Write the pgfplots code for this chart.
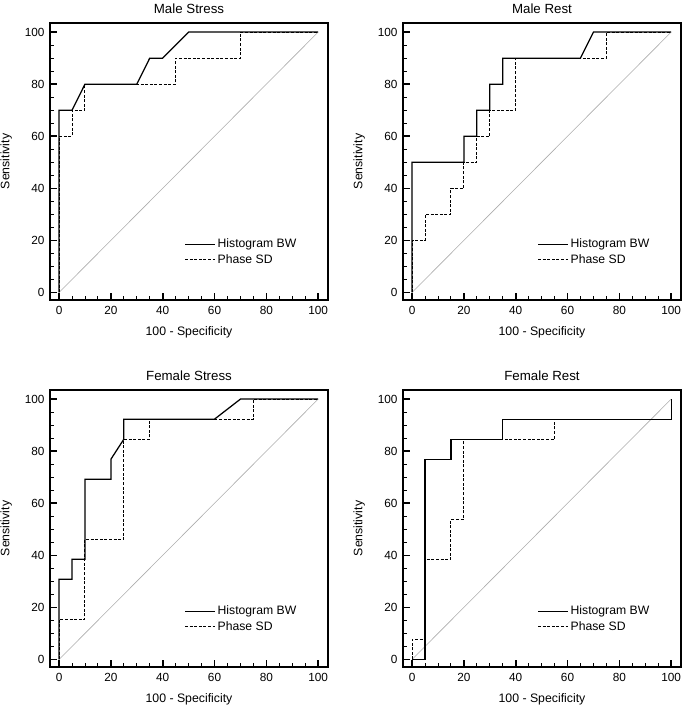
\documentclass[border=0pt]{standalone}
\usepackage{fontspec}
\setmainfont{Liberation Sans}
\usepackage{pgfplots}
\pgfplotsset{compat=1.18}
\pgfplotsset{
  rocax/.style={
    scale only axis, width=278pt, height=277pt,
    xmin=-3.5, xmax=103.8, ymin=-2.9, ymax=103.5,
    xtick={0,20,...,100}, ytick={0,20,...,100},
    minor x tick num=3, minor y tick num=3,
    xtick pos=bottom, ytick pos=left, tick align=inside,
    major tick length=7pt, minor tick length=3.5pt,
    every major tick/.style={line width=1.6pt, black},
    every minor tick/.style={line width=0.9pt, black},
    axis line style={line width=1.2pt, black},
    /pgf/number format/assume math mode=true,
    ticklabel style={font=\fontsize{11.8}{13}\selectfont},
    xticklabel style={yshift=-3pt},
    yticklabel style={xshift=-2pt},
    xlabel={100 - Specificity}, ylabel={Sensitivity},
    label style={font=\fontsize{12.3}{14}\selectfont},
    xlabel style={yshift=-5pt},
    ylabel style={yshift=6pt},
    title style={font=\fontsize{13.3}{15}\selectfont, yshift=0pt},
    legend style={draw=none, fill=none, font=\fontsize{12.2}{14}\selectfont,
      at={(rel axis cs:0.472,0.235)}, anchor=north west, row sep=1pt,
      cells={anchor=west}},
    legend image code/.code={\draw[##1] (0pt,0pt) -- (30pt,0pt);},
    hbw/.style={black, line width=1.25pt},
    psd/.style={black, line width=1pt, dash pattern=on 3pt off 1.6pt},
    diag/.style={gray!65, line width=0.6pt, forget plot},
    after end axis/.code={\draw[line width=2pt, black] (rel axis cs:0,1) -- (rel axis cs:0,0) -- (rel axis cs:1,0);},
  }
}
\begin{document}
\begin{tikzpicture}
\useasboundingbox (0,0) rectangle (685pt,709pt);
% Male Stress
\begin{axis}[rocax, at={(50pt,409pt)}, anchor=south west, title={Male Stress}]
\addplot[diag] coordinates {(0,0) (100,100)};
\addplot[hbw] coordinates {(0,0) (0,70) (5,70) (10,80) (30,80) (35,90) (40,90) (50,100) (100,100)};
\addlegendentry{Histogram BW}
\addplot[psd] coordinates {(0,0) (0,60) (5,60) (5,70) (10,70) (10,80) (45,80) (45,90) (70,90) (70,100) (100,100)};
\addlegendentry{Phase SD}
\end{axis}
% Male Rest
\begin{axis}[rocax, at={(403pt,409pt)}, anchor=south west, title={Male Rest}]
\addplot[diag] coordinates {(0,0) (100,100)};
\addplot[hbw] coordinates {(0,0) (0,50) (20,50) (20,60) (25,60) (25,70) (30,70) (30,80) (35,80) (35,90) (65,90) (70,100) (100,100)};
\addlegendentry{Histogram BW}
\addplot[psd] coordinates {(0,0) (0,20) (5,20) (5,30) (15,30) (15,40) (20,40) (20,50) (25,50) (25,60) (30,60) (30,70) (40,70) (40,90) (75,90) (75,100) (100,100)};
\addlegendentry{Phase SD}
\end{axis}
% Female Stress
\begin{axis}[rocax, at={(50pt,42pt)}, anchor=south west, title={Female Stress}]
\addplot[diag] coordinates {(0,0) (100,100)};
\addplot[hbw] coordinates {(0,0) (0,30.8) (5,30.8) (5,38.5) (10,38.5) (10,69.2) (20,69.2) (20,76.9) (25,84.6) (25,92.3) (60,92.3) (70,100) (100,100)};
\addlegendentry{Histogram BW}
\addplot[psd] coordinates {(0,0) (0,15.4) (10,15.4) (10,46.2) (25,46.2) (25,84.6) (35,84.6) (35,92.3) (75,92.3) (75,100) (100,100)};
\addlegendentry{Phase SD}
\end{axis}
% Female Rest
\begin{axis}[rocax, at={(403pt,42pt)}, anchor=south west, title={Female Rest}]
\addplot[diag] coordinates {(0,0) (100,100)};
\addplot[hbw] coordinates {(0,0) (5,0) (5,76.9) (15,76.9) (15,84.6) (35,84.6) (35,92.3) (100,92.3) (100,100)};
\addlegendentry{Histogram BW}
\addplot[psd] coordinates {(0,0) (0,7.7) (5,7.7) (5,38.5) (15,38.5) (15,53.8) (20,53.8) (20,84.6) (55,84.6) (55,92.3) (100,92.3) (100,100)};
\addlegendentry{Phase SD}
\end{axis}
\end{tikzpicture}
\end{document}
